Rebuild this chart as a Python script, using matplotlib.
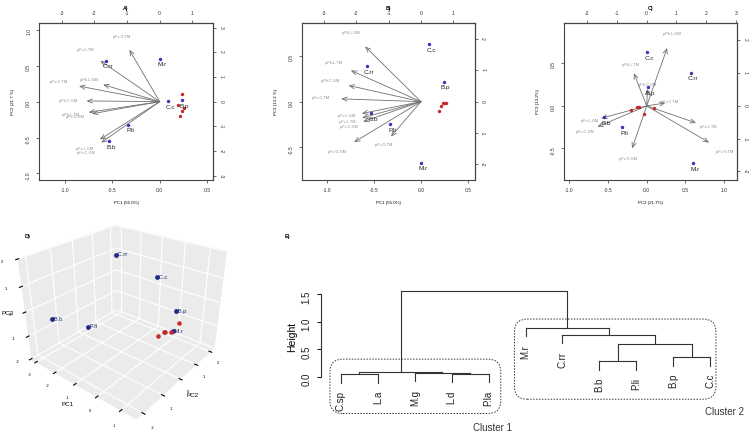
import matplotlib.pyplot as plt
import numpy as np
from matplotlib.patches import FancyBboxPatch

plt.rcParams["font.family"] = ["Liberation Sans", "DejaVu Sans"]
plt.rcParams["axes.unicode_minus"] = False
plt.rcParams["grid.color"] = "white"
plt.rcParams["grid.linewidth"] = 0.8

# species scores (biplot scale), cluster 2 species are labelled
species = ["C.rr", "C.c", "M.r", "B.p", "B.b", "P.li"]
pc1 = [-0.57, 0.09, 0.00, 0.24, -0.53, -0.33]
pc2 = [0.57, 0.01, 0.60, 0.02, -0.55, -0.32]
pc3 = [0.39, 0.63, -0.67, 0.22, -0.13, -0.25]

# cluster 1 species (red, unlabelled)
red_pc1 = [0.24, 0.19, 0.26, 0.23, 0.21]
red_pc2 = [0.10, -0.04, -0.095, -0.13, -0.20]
red_pc3 = [-0.02, -0.10, -0.01, -0.01, -0.05]

# variable loadings (arrow tips, loading scale)
variables = ["p.Fv.G.TM", "p.Fv.L.TM", "p.Fv.C.TM", "p.Ph.L.GM", "p.Ph.C.GM",
             "p.Ph.L.TM", "p.Fv.C.GM", "p.Fv.L.GM", "p.Fv.G.GM"]
load1 = [-0.93, -1.82, -2.47, -1.73, -2.24, -2.17, -1.79, -1.83, -2.07]
load2 = [2.10, 1.66, 0.63, 0.69, 0.03, -0.43, -1.66, -1.53, -0.49]
load3 = [-1.12, -0.52, 0.09, 1.77, 0.52, 1.00, -0.64, -0.38, -1.30]

# 3D scores
s3_pc1 = [-2.85, 0.45, 0.00, 1.20, -2.65, -1.65]
s3_pc2 = [1.80, 0.03, 1.89, 0.06, -1.73, -1.00]
s3_pc3 = [0.96, 1.54, -1.64, 0.54, -0.32, -0.61]
r3_pc1 = [1.20, 0.95, 1.30, 1.15, 1.05]
r3_pc2 = [0.32, -0.13, -0.30, -0.41, -0.63]
r3_pc3 = [-0.05, -0.25, -0.02, -0.02, -0.12]

# dendrogram (hclust style merges, negative = leaf)
leaves = ["C.sp", "L.a", "M.g", "L.d", "P.la", "M.r", "C.rr", "B.b", "P.li", "B.p", "C.c"]
merges = [(-1, -2), (-4, -5), (-3, 2), (1, 3), (-8, -9), (-10, -11),
          (5, 6), (-7, 7), (-6, 8), (4, 9)]
heights = [0.05, 0.055, 0.07, 0.09, 0.285, 0.36, 0.59, 0.765, 0.89, 1.57]

BLUE = "#3535C0"
RED = "#C42828"

fig = plt.figure(figsize=(7.56, 4.41), dpi=100)


def biplot(rect, sx, sy, rx, ry, lx, ly, ratio, xlim, ylim, xticks, yticks,
           top_ticks, right_ticks, title, xlabel, ylabel):
    ax = fig.add_axes(rect)
    ax.set_xlim(xlim)
    ax.set_ylim(ylim)
    for name, tx, ty in zip(variables, lx, ly):
        x, y = tx / ratio, ty / ratio
        ax.annotate("", xy=(x, y), xytext=(0, 0),
                    arrowprops=dict(arrowstyle="->,head_length=0.35,head_width=0.15",
                                    color="#707070", lw=0.6, shrinkA=0, shrinkB=0))
        ax.text(1.25 * x, 1.25 * y, name, fontsize=2.8, color="#8a8a8a",
                ha="center", va="center")
    ax.scatter(rx, ry, s=6, color=RED, lw=0, zorder=3)
    ax.scatter(sx, sy, s=6, color=BLUE, lw=0, zorder=3)
    for name, x, y in zip(species, sx, sy):
        ax.annotate(name, (x, y), xytext=(1.5, -4.5), textcoords="offset points",
                    ha="center", va="center", fontsize=4.6, color="#222222")
    ax.set_xticks(xticks)
    ax.set_yticks(yticks)
    ax.tick_params(labelsize=3.6, length=2.4, width=0.5, pad=3.2, colors="#333333")
    ax.tick_params(axis="y", labelrotation=90)
    for sp in ax.spines.values():
        sp.set_linewidth(0.8)
        sp.set_color("#444444")
    top = ax.secondary_xaxis("top", functions=(lambda v: v * ratio, lambda v: v / ratio))
    top.set_xticks(top_ticks)
    top.tick_params(labelsize=3.6, length=2.4, width=0.5, pad=3.2, colors="#333333")
    right = ax.secondary_yaxis("right", functions=(lambda v: v * ratio, lambda v: v / ratio))
    right.set_yticks(right_ticks)
    right.tick_params(labelsize=3.6, length=2.4, width=0.5, pad=1.5, colors="#333333",
                      labelrotation=-90)
    ax.set_title(title, fontsize=3.8, fontweight="bold", pad=0.3)
    ax.set_xlabel(xlabel, fontsize=3.2, labelpad=6)
    ax.set_ylabel(ylabel, fontsize=3.2, labelpad=8)
    return ax


biplot([0.0516, 0.592, 0.230, 0.355], pc1, pc2, red_pc1, red_pc2, load1, load2, 2.91,
       (-1.27, 0.56), (-1.09, 1.09), [-1.0, -0.5, 0.0, 0.5], [-1.0, -0.5, 0.0, 0.5, 1.0],
       [-3, -2, -1, 0, 1], [-3, -2, -1, 0, 1, 2, 3], "A)", "PC1 (55.0%)", "PC2 (21.7 %)")
biplot([0.399, 0.592, 0.229, 0.355], pc1, pc3, red_pc1, red_pc3, load1, load3, 2.92,
       (-1.265, 0.57), (-0.86, 0.86), [-1.0, -0.5, 0.0, 0.5], [-0.5, 0.0, 0.5],
       [-3, -2, -1, 0, 1], [-2, -1, 0, 1, 2], "B)", "PC1 (55.0%)", "PC3 (13.2 %)")
biplot([0.746, 0.592, 0.229, 0.355], pc2, pc3, red_pc2, red_pc3, load2, load3, 2.6,
       (-1.07, 1.17), (-0.87, 0.97), [-1.0, -0.5, 0.0, 0.5, 1.0], [-0.5, 0.0, 0.5],
       [-2, -1, 0, 1, 2, 3], [-2, -1, 0, 1, 2], "C)", "PC2 (21.7%)", "PC3 (13.2%)")

# D) 3D scores
ax3 = fig.add_axes([-0.033, -0.036, 0.385, 0.66], projection="3d")
ax3.set_facecolor("none")
ax3.set_proj_type("persp", focal_length=0.25)
ax3.view_init(elev=28, azim=-51)
ax3.set_box_aspect((1, 1, 0.8), zoom=0.75)
ax3.scatter(r3_pc1, r3_pc2, r3_pc3, s=5, color=RED, depthshade=False)
ax3.scatter(s3_pc1, s3_pc2, s3_pc3, s=6, color="#1F2A8A", depthshade=False)
for name, x, y, z in zip(species, s3_pc1, s3_pc2, s3_pc3):
    ax3.text(x, y, z, " " + name, fontsize=4.2, color="#1F2A6A", va="center")
ax3.set_xlim(-3.3, 1.6)
ax3.set_ylim(-2.3, 2.3)
ax3.set_zlim(-2, 2)
ax3.set_xticks([-3, -2, -1, 0, 1])
ax3.set_yticks([-2, -1, 0, 1, 2])
ax3.set_zticks([-2, -1, 0, 1, 2])
for axis in (ax3.xaxis, ax3.yaxis, ax3.zaxis):
    axis.set_pane_color("#EBEBEB")
    axis.line.set_color((0, 0, 0, 0))
ax3.zaxis.set_ticks_position("lower")
ax3.zaxis.set_label_position("lower")
ax3.tick_params(labelsize=3, pad=0)
ax3.set_xlabel("PC1", fontsize=4.5, labelpad=-9)
ax3.set_ylabel("PC2", fontsize=4.5, labelpad=-9)
ax3.set_zlabel("PC3", fontsize=4.5, labelpad=-12)
fig.text(0.033, 0.46, "D)", fontsize=4, fontweight="bold")

# E) dendrogram
axe = fig.add_axes([0.4242, 0.1209, 0.5394, 0.2303])
axe.set_xlim(0.45, 11.5)
axe.set_ylim(-0.2, 1.65)
hang = 0.1 * max(heights)
node_x = []
for (a, b), h in zip(merges, heights):
    xs = []
    for c in (a, b):
        if c < 0:
            cx, cy = -c, h - hang
            axe.annotate(leaves[-c - 1], (cx, cy), xytext=(0, -6), textcoords="offset points",
                         rotation=90, ha="center", va="top", fontsize=7, color="#222222",
                         annotation_clip=False)
        else:
            cx, cy = node_x[c - 1]
        axe.plot([cx, cx], [cy, h], color="#333333", lw=0.8)
        xs.append(cx)
    axe.plot(xs, [h, h], color="#333333", lw=0.8)
    node_x.append((np.mean(xs), h))
for sp in ["top", "right", "bottom"]:
    axe.spines[sp].set_visible(False)
axe.spines["left"].set_bounds(0, 1.5)
axe.spines["left"].set_color("#333333")
axe.set_xticks([])
axe.set_yticks([0.0, 0.5, 1.0, 1.5])
axe.tick_params(axis="y", labelsize=7, labelrotation=90, length=3, colors="#222222")
axe.set_ylabel("Height", fontsize=7.5, labelpad=3)

# dotted cluster boxes
for x0, x1, y0, y1 in [(0.7, 5.33, -0.67, 0.32), (5.7, 11.16, -0.41, 1.05)]:
    box = FancyBboxPatch((x0, y0), x1 - x0, y1 - y0,
                         boxstyle="round,pad=0,rounding_size=0.35", mutation_aspect=0.67,
                         fill=False, ls=(0, (1.5, 1.5)), lw=0.7, ec="#333333", clip_on=False)
    axe.add_patch(box)
axe.text(5.1, -0.94, "Cluster 1", fontsize=7, color="#333333", ha="center", va="center")
axe.text(11.4, -0.65, "Cluster 2", fontsize=7, color="#333333", ha="center", va="center")
fig.text(0.377, 0.461, "E)", fontsize=4, fontweight="bold")

fig.savefig("out.png", dpi=100)
